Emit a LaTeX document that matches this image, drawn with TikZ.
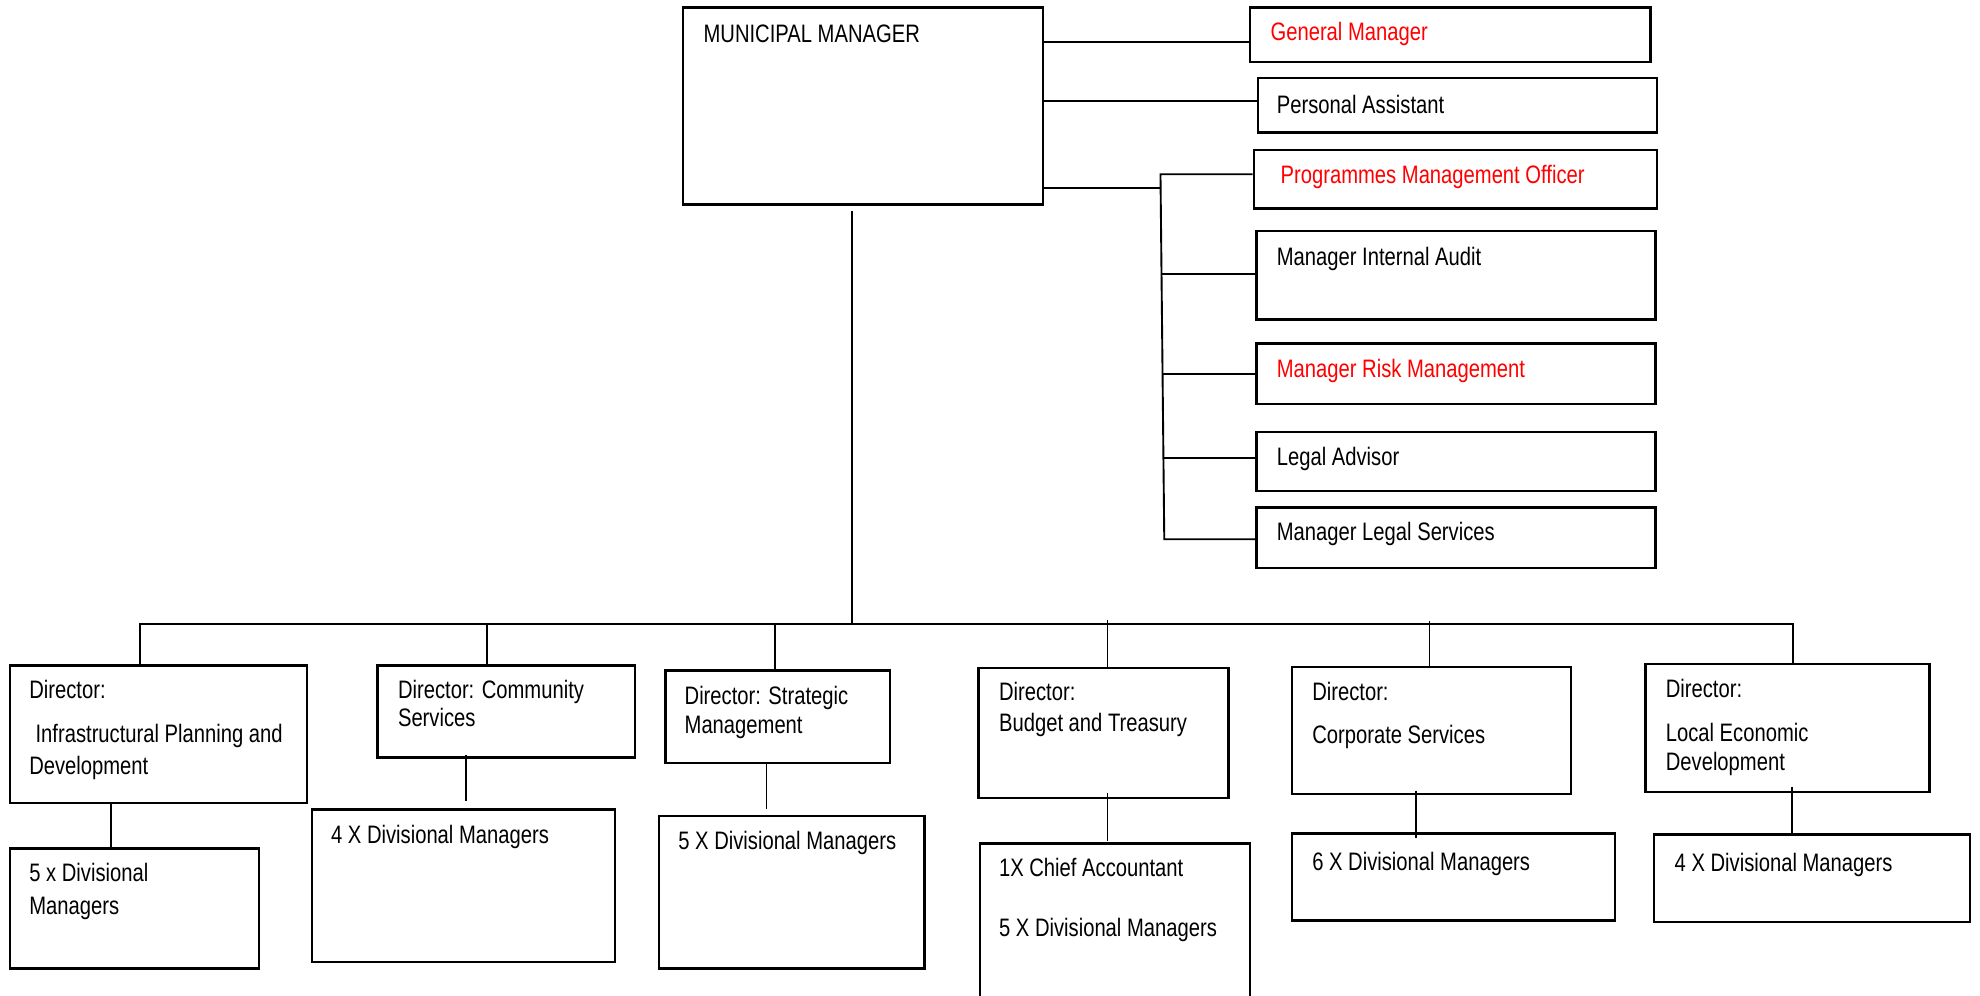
\documentclass[tikz,border=0pt]{standalone}
\usepackage{fontspec}
\setmainfont{Liberation Sans}[FakeStretch=0.8]
\usetikzlibrary{fit}
\definecolor{hilite}{RGB}{255,0,0}

% helper: rectangle node spanning two corners
\newcommand\orgbox[5]{%
  \path (#2,#3) coordinate (#1-nw) (#4,#5) coordinate (#1-se);
  \node[box, fit=(#1-nw)(#1-se)] (#1) {};}

\begin{document}
\begin{tikzpicture}[x=1pt,y=-1pt,
  box/.style={draw=black, line width=1.9pt, inner sep=0pt},
  link/.style={draw=black, line width=1.5pt},
  lbl/.style={anchor=base west, inner sep=0pt, font=\fontsize{20}{24}\selectfont},
  redlbl/.style={lbl, text=hilite}]
\clip (0,0) rectangle (1568,788);
\fill[white] (0,0) rectangle (1568,788);

% top level and staff offices
\orgbox{mm}{541}{6}{826}{162}
\orgbox{gm}{990}{6}{1307}{49}
\orgbox{pa}{996}{62}{1312}{105}
\orgbox{pmo}{993}{119}{1312}{165}
\orgbox{mia}{995}{183}{1311}{253}
\orgbox{mrm}{995}{272}{1311}{320}
\orgbox{la}{995}{342}{1311}{389}
\orgbox{mls}{995}{402}{1311}{450}

\node[lbl] (t-mm) at (557,34) {MUNICIPAL MANAGER};
\node[redlbl] (t-gm) at (1006,32) {General Manager};
\node[lbl] (t-pa) at (1011,89.5) {Personal Assistant};
\node[redlbl] (t-pmo) at (1014,145) {Programmes Management Officer};
\node[lbl] (t-mia) at (1011,210) {Manager Internal Audit};
\node[redlbl] (t-mrm) at (1011,299) {Manager Risk Management};
\node[lbl] (t-la) at (1011,369) {Legal Advisor};
\node[lbl] (t-mls) at (1011,428) {Manager Legal Services};

% directors
\orgbox{d1}{8}{527}{243}{636}
\orgbox{d2}{299}{527}{503}{600}
\orgbox{d3}{527}{531}{705}{604}
\orgbox{d4}{775}{529}{973}{632}
\orgbox{d5}{1023}{528}{1244}{629}
\orgbox{d6}{1303}{526}{1528}{627}

\node[lbl] (t-d1a) at (23,553) {Director:};
\node[lbl] (t-d1b) at (28,588) {Infrastructural Planning and};
\node[lbl] (t-d1c) at (23,613) {Development};
\node[lbl] (t-d2a) at (315,553) {Director: Community};
\node[lbl] (t-d2b) at (315,575) {Services};
\node[lbl] (t-d3a) at (542,558) {Director: Strategic};
\node[lbl] (t-d3b) at (542,581) {Management};
\node[lbl] (t-d4a) at (791,555) {Director:};
\node[lbl] (t-d4b) at (791,579) {Budget and Treasury};
\node[lbl] (t-d5a) at (1039,555) {Director:};
\node[lbl] (t-d5b) at (1039,589) {Corporate Services};
\node[lbl] (t-d6a) at (1319,552) {Director:};
\node[lbl] (t-d6b) at (1319,587) {Local Economic};
\node[lbl] (t-d6c) at (1319,610) {Development};

% divisional level
\orgbox{s1}{8}{672}{205}{767}
\orgbox{s2}{247}{641}{487}{762}
\orgbox{s3}{522}{646}{732}{767}
\orgbox{s4}{776}{668}{990}{810}
\orgbox{s5}{1023}{660}{1279}{729}
\orgbox{s6}{1310}{661}{1560}{730}

\node[lbl] (t-s1a) at (23,698) {5 x Divisional};
\node[lbl] (t-s1b) at (23,724) {Managers};
\node[lbl] (t-s2) at (262,668) {4 X Divisional Managers};
\node[lbl] (t-s3) at (537,673) {5 X Divisional Managers};
\node[lbl] (t-s4a) at (791,694) {1X Chief Accountant};
\node[lbl] (t-s4b) at (791,742) {5 X Divisional Managers};
\node[lbl] (t-s5) at (1039,689) {6 X Divisional Managers};
\node[lbl] (t-s6) at (1326,690) {4 X Divisional Managers};

% staff connectors
\draw[link] (mm.east |- 0,33) -- (gm.west |- 0,33);
\draw[link] (mm.east |- 0,80) -- (pa.west |- 0,80);
\coordinate (sbtop) at (919,138);
\coordinate (sbbot) at (922,427);
\draw[link] (mm.east |- 0,149) -- (sbtop |- 0,149);
\draw[link] (pmo.west |- sbtop) -- (sbtop) -- (sbbot) -- (mls.west |- sbbot);
\draw[link] (920,217) -- (mia.west |- 0,217);
\draw[link] (921,296) -- (mrm.west |- 0,296);
\draw[link] (921,363) -- (la.west |- 0,363);

% line of command to the directors
\coordinate (trunk) at (675,167);
\coordinate (busl) at (111,494);
\coordinate (busr) at (1420,494);
\draw[link] (trunk) -- (trunk |- busl);
\draw[link] (d1.north -| busl) -- (busl) -- (busr) -- (d6.north -| busr);
\draw[link] (386,494) -- (386,527);
\draw[link] (614,494) -- (614,531);
\draw[link] (877,491) -- (877,529);
\draw[link] (1132,492) -- (1132,528);

% director to divisional connectors
\draw[link] (88,636) -- (88,672);
\draw[link] (369,598) -- (369,634);
\draw[link] (607,604) -- (607,641);
\draw[link] (877,628) -- (877,666);
\draw[link] (1121,626) -- (1121,664);
\draw[link] (1419,623) -- (1419,661);
\end{tikzpicture}
\end{document}
